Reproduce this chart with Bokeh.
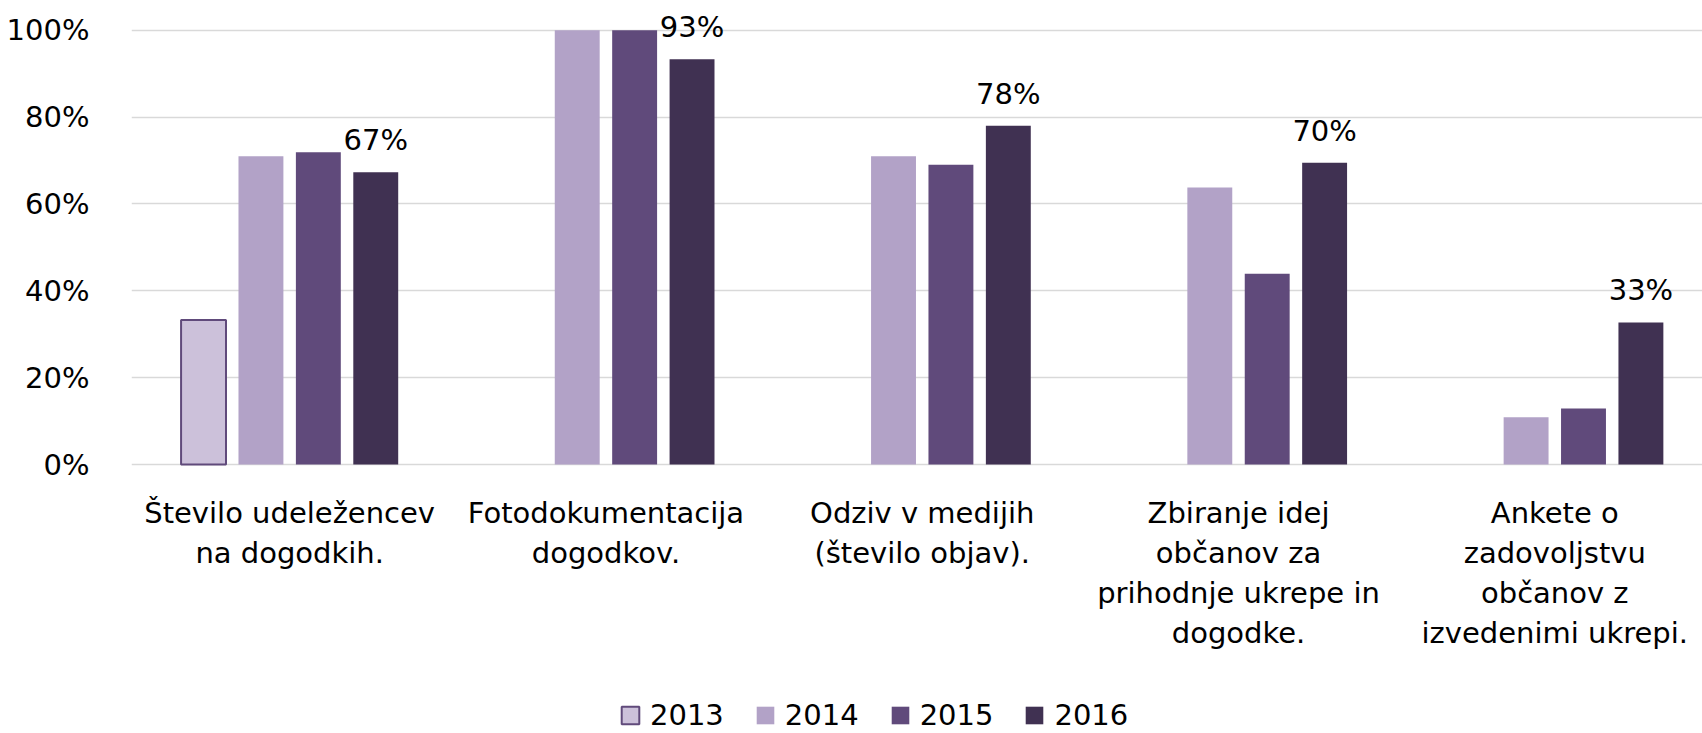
import numpy as np
from bokeh.plotting import figure
from bokeh.models import (ColumnDataSource, Range1d, FixedTicker, NumeralTickFormatter,
                          Legend, LegendItem)
from bokeh.transform import dodge
from bokeh.core.properties import value
from bokeh.embed import file_html
from bokeh.resources import INLINE

# ---- data ----
categories = [
    "Število udeležencev\nna dogodkih.",
    "Fotodokumentacija\ndogodkov.",
    "Odziv v medijih\n(število objav).",
    "Zbiranje idej\nobčanov za\nprihodnje ukrepe in\ndogodke.",
    "Ankete o\nzadovoljstvu\nobčanov z\nizvedenimi ukrepi.",
]
years = ["2013", "2014", "2015", "2016"]
v2013 = [0.333, None, None, None, None]
v2014 = [0.710, 1.000, 0.710, 0.638, 0.109]
v2015 = [0.719, 1.000, 0.690, 0.439, 0.129]
v2016 = [0.673, 0.933, 0.780, 0.695, 0.327]
y_ticks = [0, 0.2, 0.4, 0.6, 0.8, 1.0]

FONT = "DejaVu Sans"
FS = "29px"
fills = ["#CCC1DA", "#B2A2C7", "#604A7B", "#403152"]

def nz(a):
    return [np.nan if v is None else v for v in a]

xs = list(range(len(categories)))
src = ColumnDataSource(dict(
    x=xs, y2013=nz(v2013), y2014=nz(v2014), y2015=nz(v2015), y2016=nz(v2016),
    lab=[f"{round(v * 100):d}%" for v in v2016],
))

# category labels, one row per text line, hung below the 0 baseline
LINE_H = 40
FIRST_BASE = 48
cx, cy, ct, coff = [], [], [], []
for i, c in enumerate(categories):
    for j, line in enumerate(c.split("\n")):
        cx.append(i)
        cy.append(0)
        ct.append(line)
        coff.append(FIRST_BASE + j * LINE_H)
cat_src = ColumnDataSource(dict(x=cx, y=cy, t=ct, off=coff))

PX_PER_UNIT = 434.3
H = 733
Y0 = 464
p = figure(width=1702, height=H,
           x_range=Range1d(-0.5, 4.467),
           y_range=Range1d(-(H - Y0) / PX_PER_UNIT, Y0 / PX_PER_UNIT),
           output_backend="svg", toolbar_location=None, x_axis_location=None,
           min_border_left=131, min_border_right=0, min_border_top=0,
           min_border_bottom=0)
p.outline_line_color = None
p.background_fill_color = "white"
p.border_fill_color = "white"

pitch = 0.1815
bw = 0.142
renderers = []
for k, (yr, col) in enumerate(zip(years, fills)):
    r = p.vbar(x=dodge("x", (k - 1.5) * pitch, range=p.x_range), top="y" + yr,
               bottom=0, width=bw, source=src, fill_color=col,
               line_color="#604A7B" if k == 0 else None,
               line_width=2 if k == 0 else 0)
    renderers.append(r)

p.text(x=dodge("x", 1.5 * pitch, range=p.x_range), y="y2016", text="lab", source=src,
       text_align="center", text_baseline="alphabetic", y_offset=-32,
       text_font=value(FONT), text_font_size=FS, text_color="black")

p.text(x="x", y="y", text="t", y_offset="off", source=cat_src,
       text_align="center", text_baseline="alphabetic",
       text_font=value(FONT), text_font_size=FS, text_color="black")

# y axis
p.yaxis.ticker = FixedTicker(ticks=y_ticks)
p.yaxis.formatter = NumeralTickFormatter(format="0%")
p.yaxis.axis_line_color = None
p.yaxis.major_tick_line_color = None
p.yaxis.minor_tick_line_color = None
p.yaxis.major_label_standoff = 36
p.yaxis.major_label_text_font = FONT
p.yaxis.major_label_text_font_size = FS
p.yaxis.major_label_text_color = "black"

p.xgrid.grid_line_color = None
p.ygrid.ticker = FixedTicker(ticks=y_ticks)
p.ygrid.grid_line_color = "#D9D9D9"
p.ygrid.grid_line_width = 1.5

legend = Legend(items=[LegendItem(label=yr, renderers=[r]) for yr, r in zip(years, renderers)],
                orientation="horizontal", location=(488, 1),
                glyph_width=22, glyph_height=22, label_standoff=9, spacing=30,
                padding=0, margin=0, border_line_color=None, background_fill_alpha=0,
                label_text_font=FONT, label_text_font_size=FS, label_text_color="black")
p.add_layout(legend, "center")

open("out.html", "w").write(file_html(p, INLINE))
